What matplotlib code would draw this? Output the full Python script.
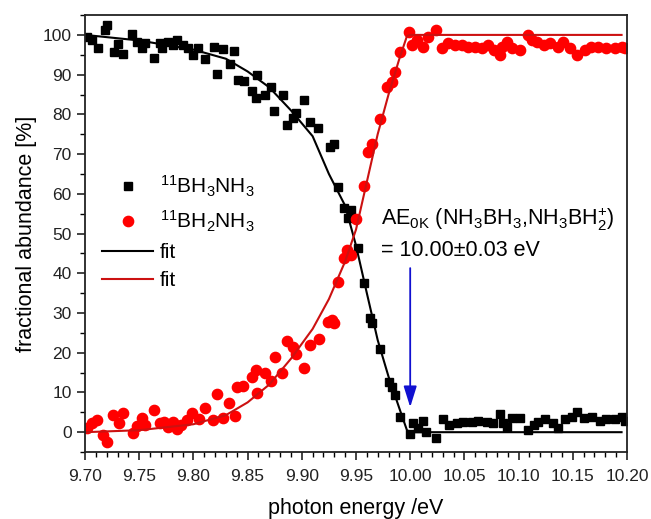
import matplotlib
matplotlib.use("Agg")
import matplotlib.pyplot as plt
from matplotlib.ticker import MultipleLocator
import numpy as np

plt.rcParams['font.family'] = ['Liberation Sans', 'DejaVu Sans']
plt.rcParams['mathtext.fontset'] = 'custom'
plt.rcParams['mathtext.rm'] = 'Liberation Sans'
plt.rcParams['mathtext.it'] = 'Liberation Sans:italic'

# measured data, 11BH3NH3 (black squares)
bh3_energy = [9.702, 9.706, 9.712, 9.718, 9.720, 9.727, 9.730, 9.735, 9.743, 9.748,
              9.753, 9.755, 9.764, 9.769, 9.771, 9.777, 9.781, 9.785, 9.790, 9.795,
              9.800, 9.804, 9.811, 9.819, 9.822, 9.827, 9.834, 9.837, 9.841, 9.847,
              9.854, 9.858, 9.859, 9.866, 9.872, 9.874, 9.883, 9.886, 9.892, 9.895,
              9.902, 9.908, 9.915, 9.926, 9.930, 9.933, 9.939, 9.943, 9.945, 9.952,
              9.957, 9.963, 9.965, 9.972, 9.980, 9.983, 9.986, 9.991, 10.000, 10.003,
              10.007, 10.012, 10.015, 10.024, 10.030, 10.036, 10.043, 10.049, 10.057, 10.063,
              10.071, 10.076, 10.083, 10.086, 10.089, 10.094, 10.101, 10.109, 10.114, 10.118,
              10.124, 10.132, 10.136, 10.143, 10.149, 10.154, 10.160, 10.168, 10.175, 10.181,
              10.189, 10.195, 10.198]
bh3_abund = [99.5, 98.7, 96.7, 101.3, 102.5, 95.7, 97.7, 95.2, 100.2, 98.2,
             96.7, 97.9, 94.2, 98.0, 96.7, 98.2, 97.5, 98.7, 97.5, 96.7,
             95.0, 96.7, 94.0, 97.0, 90.2, 96.5, 92.7, 96.0, 88.7, 88.4,
             86.0, 84.1, 89.9, 84.9, 86.9, 80.9, 84.9, 77.3, 79.1, 80.4,
             83.6, 78.1, 76.5, 71.8, 72.5, 61.7, 56.4, 53.9, 55.9, 46.3,
             37.5, 28.7, 27.4, 20.9, 12.6, 11.3, 9.3, 3.8, -0.5, 2.3,
             1.0, 2.8, 0.0, -1.4, 3.2, 1.8, 2.3, 2.5, 2.5, 2.8,
             2.5, 2.3, 4.5, 2.3, 1.3, 3.5, 3.5, 0.5, 1.8, 2.5,
             3.3, 2.3, 1.0, 3.3, 3.8, 5.0, 3.5, 3.8, 2.8, 3.3,
             3.3, 3.8, 2.8]

# measured data, 11BH2NH3 (red circles)
bh2_energy = [9.702, 9.706, 9.711, 9.717, 9.720, 9.726, 9.731, 9.735, 9.744, 9.748,
              9.753, 9.755, 9.764, 9.769, 9.773, 9.777, 9.781, 9.785, 9.789, 9.794,
              9.799, 9.805, 9.811, 9.818, 9.822, 9.827, 9.833, 9.838, 9.840, 9.846,
              9.854, 9.858, 9.859, 9.866, 9.872, 9.875, 9.882, 9.886, 9.892, 9.895,
              9.902, 9.908, 9.916, 9.924, 9.928, 9.930, 9.933, 9.939, 9.942, 9.945,
              9.950, 9.957, 9.961, 9.965, 9.972, 9.979, 9.983, 9.986, 9.991, 9.999,
              10.002, 10.006, 10.012, 10.016, 10.024, 10.029, 10.035, 10.041, 10.048, 10.053,
              10.060, 10.066, 10.072, 10.077, 10.083, 10.085, 10.089, 10.094, 10.101, 10.109,
              10.112, 10.117, 10.123, 10.129, 10.136, 10.141, 10.147, 10.154, 10.161, 10.167,
              10.173, 10.181, 10.189, 10.195, 10.198]
bh2_abund = [1.0, 2.3, 3.0, -0.8, -2.5, 4.3, 2.3, 4.8, -0.3, 1.5,
             3.5, 1.8, 5.5, 2.3, 2.5, 1.3, 2.5, 0.8, 1.8, 3.0,
             4.8, 3.3, 6.0, 3.0, 9.6, 3.5, 7.3, 4.0, 11.3, 11.6,
             13.9, 15.6, 9.8, 14.9, 12.8, 18.9, 14.9, 22.9, 21.4, 19.6,
             16.1, 21.9, 23.4, 27.7, 28.2, 27.4, 37.8, 43.8, 45.8, 44.6,
             53.7, 62.0, 70.5, 72.5, 78.8, 86.9, 88.2, 90.7, 95.7, 100.8,
             97.5, 98.7, 97.0, 99.5, 101.3, 96.7, 98.0, 97.5, 97.5, 97.0,
             97.0, 96.7, 97.5, 96.2, 95.0, 97.0, 98.2, 96.7, 96.2, 100.0,
             98.7, 98.2, 97.5, 98.0, 97.0, 98.2, 96.7, 95.0, 96.2, 97.0,
             97.0, 96.7, 96.7, 97.0, 96.7]

# fit curves
fit_energy = [9.70, 9.75, 9.80, 9.83, 9.85, 9.87, 9.89, 9.91, 9.925, 9.94,
              9.95, 9.96, 9.97, 9.98, 9.99, 9.997, 10.0, 10.195]
fit_bh3 = [100, 98.6, 96.3, 94.0, 90.8, 86.8, 81.0, 74.5, 65.0, 57.0,
           47.0, 35.0, 23.2, 14.0, 6.0, 0.5, 0, 0]
fit_bh2 = [0, 0.5, 2.0, 4.3, 7.5, 12.0, 18.5, 26.0, 33.5, 43.0,
           51.0, 63.0, 75.0, 85.0, 94.0, 99.7, 100, 100]

onset = 10.00
onset_label = "AE$_{\\mathrm{0K}}$ (NH$_3$BH$_3$,NH$_3$BH$_2^{+}$)\n= 10.00\u00b10.03 eV"

fig = plt.figure(figsize=(6.51, 5.19), dpi=100)
ax = fig.add_axes([0.1306, 0.129, 0.8325, 0.842])

ax.plot(bh3_energy, bh3_abund, 's', color='black', markersize=6.3, linestyle='none',
        label="$^{11}$BH$_3$NH$_3$")
ax.plot(bh2_energy, bh2_abund, 'o', color='#ff0000', markersize=7.4, linestyle='none',
        label="$^{11}$BH$_2$NH$_3$")
ax.plot(fit_energy, fit_bh3, color='black', linewidth=1.5, label='fit')
ax.plot(fit_energy, fit_bh2, color='#cc1111', linewidth=1.5, label='fit')

ax.annotate('', xy=(onset, 6.3), xytext=(onset, 41.3),
            arrowprops=dict(arrowstyle='-|>,head_length=0.8,head_width=0.25',
                            color='#1010d0', lw=1.3, mutation_scale=16,
                            shrinkA=0, shrinkB=0))
ax.text(9.973, 50, onset_label, fontsize=15.5, ha='left', va='center', linespacing=1.45)

ax.set_xlim(9.70, 10.20)
ax.set_ylim(-5, 105)
ax.xaxis.set_major_locator(MultipleLocator(0.05))
ax.xaxis.set_minor_locator(MultipleLocator(0.01))
ax.yaxis.set_major_locator(MultipleLocator(10))
ax.yaxis.set_minor_locator(MultipleLocator(5))
ax.xaxis.set_major_formatter(plt.FormatStrFormatter('%.2f'))
ax.tick_params(which='major', direction='out', length=6, width=1.2, labelsize=12.5, colors='#222222')
ax.tick_params(which='minor', direction='out', length=3.5, width=1.0)
ax.tick_params(axis='x', pad=6)
for s in ax.spines.values():
    s.set_linewidth(1.3)
    s.set_color('#222222')

ax.set_xlabel("photon energy /eV", fontsize=15.5, labelpad=10)
ax.set_ylabel("fractional abundance [%]", fontsize=15.5, labelpad=4)

ax.legend(loc='upper left', bbox_to_anchor=(0.005, 0.67), frameon=False, fontsize=15,
          handlelength=2.45, handletextpad=0.3, labelspacing=0.45, borderaxespad=0.3)

fig.savefig('out.png', dpi=100)
